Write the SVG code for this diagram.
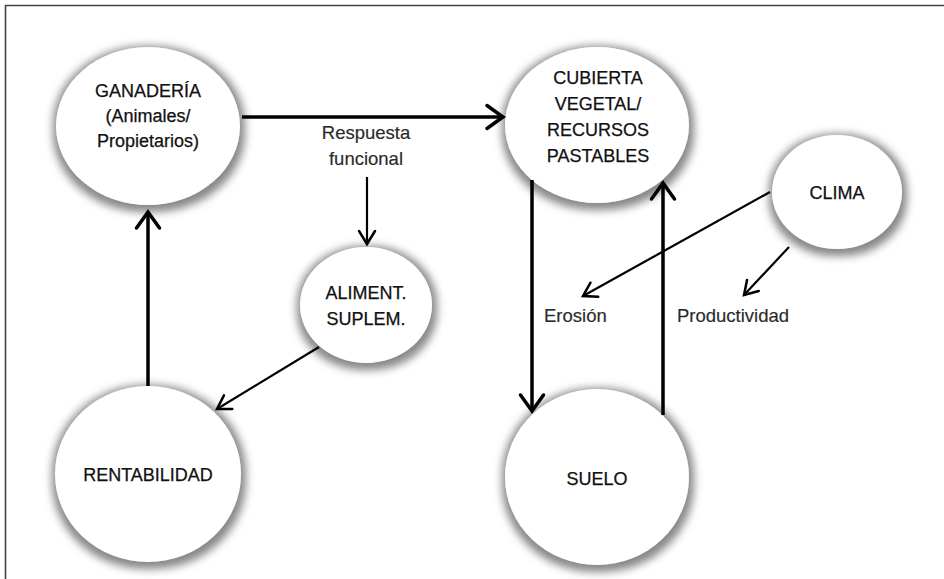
<svg xmlns="http://www.w3.org/2000/svg" width="944" height="579" viewBox="0 0 944 579">
<style>
.node{fill:#fff;filter:url(#sh)}
.nt{font-family:"Liberation Sans",Arial,sans-serif;font-size:18px;fill:#111;stroke:#111;stroke-width:0.25;text-anchor:middle}
.lb{font-family:"Liberation Sans",Arial,sans-serif;font-size:18.5px;fill:#2a2a2a;stroke:#2a2a2a;stroke-width:0.15}
.thick{stroke:#000;stroke-width:3.5;fill:none;marker-end:url(#ah)}
.thin{stroke:#000;stroke-width:2.2;fill:none;marker-end:url(#at)}
</style>
<defs>
<filter id="sh" x="-25%" y="-25%" width="150%" height="150%">
<feMorphology in="SourceAlpha" operator="dilate" radius="4" result="d"/>
<feGaussianBlur in="d" stdDeviation="4" result="b"/>
<feOffset in="b" dx="1" dy="3" result="o"/>
<feFlood flood-color="#7a7a7a" flood-opacity="0.9"/>
<feComposite in2="o" operator="in" result="s"/>
<feMerge><feMergeNode in="s"/><feMergeNode in="SourceGraphic"/></feMerge>
</filter>
<marker id="ah" markerUnits="userSpaceOnUse" markerWidth="24" markerHeight="30" refX="17" refY="12.5" orient="auto" overflow="visible">
<path d="M1,1 L17,12.5 L1,24" fill="none" stroke="#000" stroke-width="3.5" stroke-linecap="round"/>
</marker>
<marker id="at" markerUnits="userSpaceOnUse" markerWidth="20" markerHeight="22" refX="14" refY="9" orient="auto" overflow="visible">
<path d="M1,1 L14,9 L1,17" fill="none" stroke="#000" stroke-width="2.5" stroke-linecap="round"/>
</marker>
</defs>
<rect width="944" height="579" fill="#fff"/>
<path d="M5.5,579 V5.5 H944" fill="none" stroke="#444" stroke-width="1.6"/>

<g id="ganaderia">
<ellipse class="node" cx="148" cy="126" rx="92" ry="79"/>
<text class="nt" x="148" y="97">GANADERÍA</text>
<text class="nt" x="148" y="122">(Animales/</text>
<text class="nt" x="148" y="147">Propietarios)</text>
</g>
<g id="cubierta">
<ellipse class="node" cx="597" cy="125" rx="92" ry="78"/>
<text class="nt" x="598" y="84">CUBIERTA</text>
<text class="nt" x="598" y="110">VEGETAL/</text>
<text class="nt" x="598" y="136">RECURSOS</text>
<text class="nt" x="598" y="162">PASTABLES</text>
</g>
<g id="clima">
<ellipse class="node" cx="837" cy="192" rx="65" ry="57"/>
<text class="nt" x="837" y="199">CLIMA</text>
</g>
<g id="aliment">
<ellipse class="node" cx="366" cy="305" rx="66" ry="58"/>
<text class="nt" x="366" y="299">ALIMENT.</text>
<text class="nt" x="366" y="325">SUPLEM.</text>
</g>
<g id="rentabilidad">
<ellipse class="node" cx="148" cy="474" rx="93" ry="88"/>
<text class="nt" x="148" y="481">RENTABILIDAD</text>
</g>
<g id="suelo">
<ellipse class="node" cx="597" cy="477" rx="92" ry="88"/>
<text class="nt" x="597" y="485">SUELO</text>
</g>

<g id="connectors">
<line class="thick" x1="242" y1="117" x2="503" y2="117"/>
<text class="lb" x="366" y="139" text-anchor="middle">Respuesta</text>
<text class="lb" x="366" y="165" text-anchor="middle">funcional</text>
<line class="thin" x1="367" y1="177" x2="367" y2="244"/>
<line class="thin" x1="319" y1="347" x2="217" y2="409"/>
<line class="thick" x1="148" y1="386" x2="148" y2="212"/>
<line class="thick" x1="532" y1="180" x2="532" y2="411"/>
<line class="thick" x1="663" y1="415" x2="663" y2="183"/>
<line class="thin" x1="770" y1="192" x2="583" y2="296"/>
<line class="thin" x1="789" y1="247" x2="744" y2="295"/>
<text class="lb" x="544" y="322">Erosión</text>
<text class="lb" x="677" y="322">Productividad</text>
</g>
</svg>
